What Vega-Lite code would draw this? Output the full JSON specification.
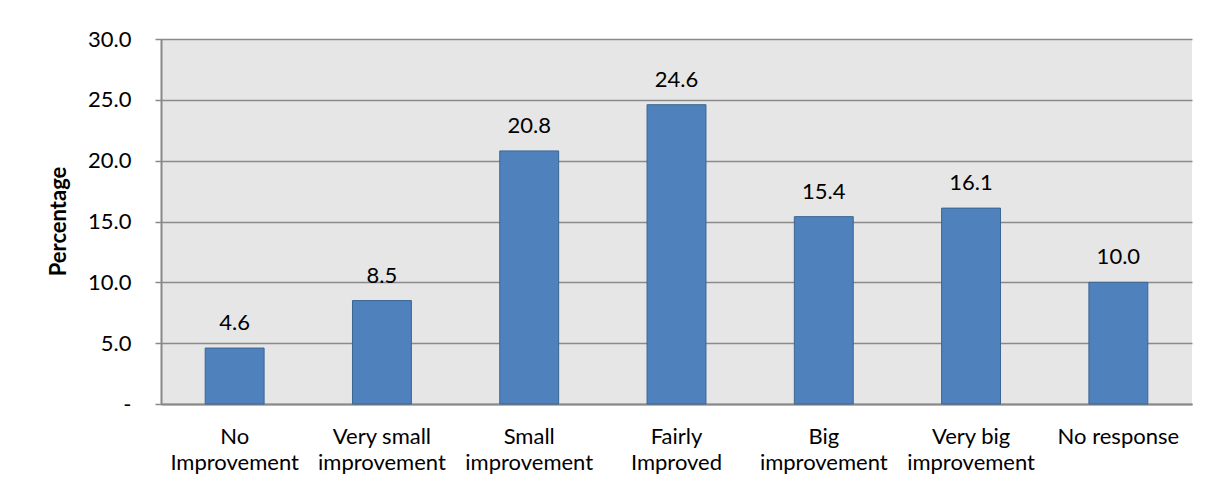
{
  "$schema": "https://vega.github.io/schema/vega-lite/v6.json",
  "width": 1031,
  "height": 365,
  "autosize": {"type": "none"},
  "padding": {"left": 161, "top": 39, "right": 24, "bottom": 90},
  "background": "white",
  "data": {
    "values": [
      {"category": "No|Improvement", "pct": 4.6},
      {"category": "Very small|improvement", "pct": 8.5},
      {"category": "Small|improvement", "pct": 20.8},
      {"category": "Fairly|Improved", "pct": 24.6},
      {"category": "Big|improvement", "pct": 15.4},
      {"category": "Very big|improvement", "pct": 16.1},
      {"category": "No response", "pct": 10.0}
    ]
  },
  "config": {
    "font": "Lato",
    "view": {"fill": "#E6E6E6", "stroke": null},
    "axis": {
      "labelFont": "Lato",
      "titleFont": "Lato",
      "labelColor": "black",
      "titleColor": "black"
    }
  },
  "encoding": {
    "x": {
      "field": "category",
      "type": "nominal",
      "sort": null,
      "scale": {"paddingInner": 0.6, "paddingOuter": 0.3},
      "axis": {
        "title": null,
        "labelExpr": "split(datum.label, '|')",
        "labelAngle": 0,
        "labelFontSize": 22,
        "labelLineHeight": 26,
        "labelPadding": 22,
        "ticks": false,
        "domainColor": "#888888",
        "domainWidth": 2,
        "grid": false
      }
    },
    "y": {
      "field": "pct",
      "type": "quantitative",
      "scale": {"domain": [0, 30], "nice": false},
      "axis": {
        "title": "Percentage",
        "titleFontSize": 22,
        "titleFontWeight": "bold",
        "titleAngle": 270,
        "titleBaseline": "middle",
        "titleAlign": "center",
        "titleX": -103,
        "titleY": 182,
        "values": [0, 5, 10, 15, 20, 25, 30],
        "labelExpr": "datum.value == 0 ? '-' : format(datum.value, '.1f')",
        "labelFontSize": 22,
        "labelPadding": 24,
        "tickSize": 6,
        "tickColor": "#888888",
        "tickWidth": 1.5,
        "domainColor": "#888888",
        "domainWidth": 2,
        "grid": true,
        "gridColor": "#8a8a8a",
        "gridWidth": 1.5
      }
    }
  },
  "layer": [
    {
      "mark": {"type": "bar", "color": "#4F81BD", "stroke": "#3A6594", "strokeWidth": 1}
    },
    {
      "mark": {"type": "text", "fontSize": 22, "baseline": "alphabetic", "dy": -18, "color": "black"},
      "encoding": {
        "text": {"field": "pct", "type": "quantitative", "format": ".1f"}
      }
    }
  ]
}
